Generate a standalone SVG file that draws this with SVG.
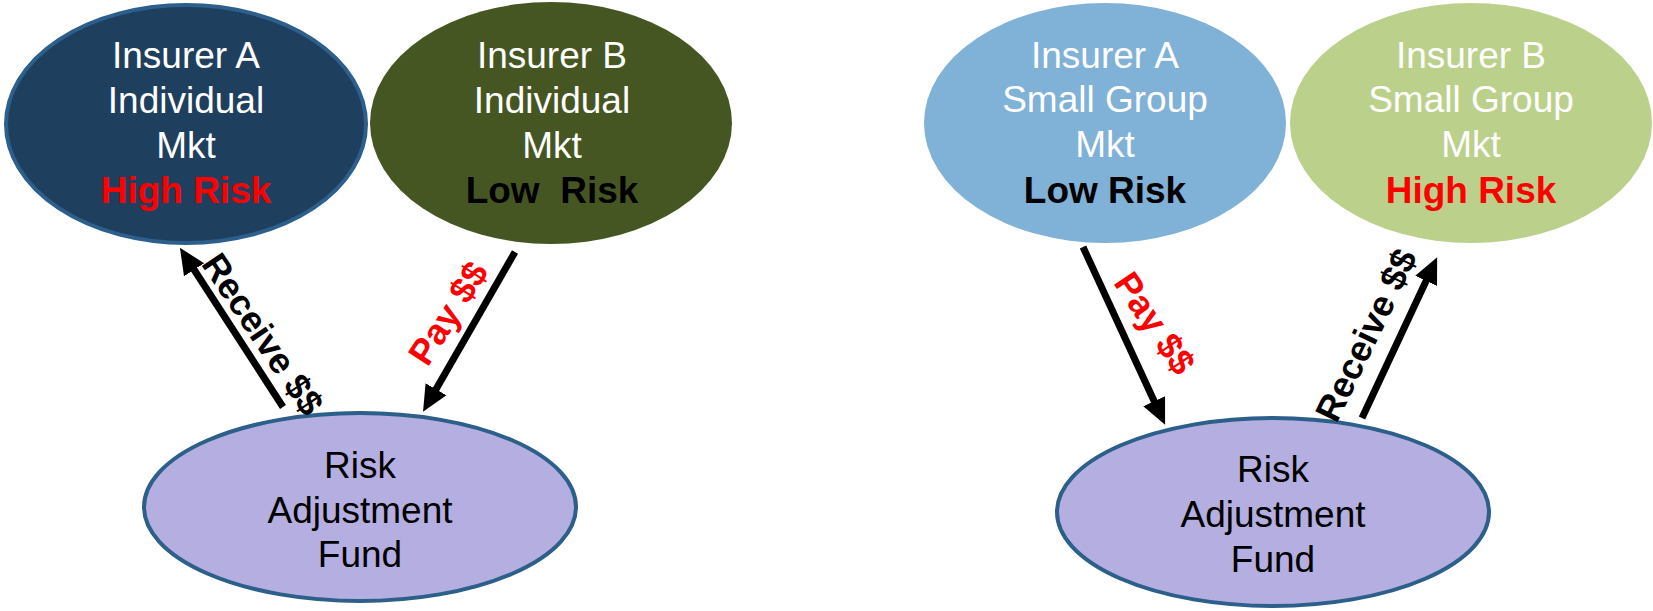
<svg xmlns="http://www.w3.org/2000/svg" width="1653" height="611" viewBox="0 0 1653 611">
<style>
.t{font-family:"Liberation Sans",Arial,sans-serif;font-size:37px;text-anchor:middle}
.w{fill:#ffffff}
.k{fill:#000000}
.b{font-weight:bold}
.r{fill:#ff0000}
.fund{fill:#b4afe0;stroke:#2c5f8a;stroke-width:4}
.lbl{font-family:"Liberation Sans",Arial,sans-serif;font-size:36px;font-weight:bold;text-anchor:middle}
.arr{stroke:#000;stroke-width:7;fill:none;marker-end:url(#ah)}
</style>
<defs>
<marker id="ah" markerUnits="userSpaceOnUse" markerWidth="28" markerHeight="26" viewBox="0 0 28 26" refX="2" refY="13" orient="auto">
<path d="M0,1 L26,13 L0,25 z" fill="#000"/>
</marker>
</defs>
<rect width="1653" height="611" fill="#fff"/>
<g id="insurerA-ind">
<ellipse cx="186" cy="124" rx="180" ry="119" fill="#1f3f5e" stroke="#2c5f8c" stroke-width="4"/>
<text class="t w" x="186" y="68">Insurer A</text>
<text class="t w" x="186" y="113">Individual</text>
<text class="t w" x="186" y="158">Mkt</text>
<text class="t b r" x="186" y="203">High Risk</text>
</g>
<g id="insurerB-ind">
<ellipse cx="551" cy="123" rx="181" ry="121" fill="#465622"/>
<text class="t w" x="552" y="68">Insurer B</text>
<text class="t w" x="552" y="113">Individual</text>
<text class="t w" x="552" y="158">Mkt</text>
<text class="t b k" x="552" y="203" xml:space="preserve">Low  Risk</text>
</g>
<g id="fund-left">
<ellipse class="fund" cx="360" cy="507" rx="216" ry="94"/>
<text class="t k" x="360" y="478">Risk</text>
<text class="t k" x="360" y="523">Adjustment</text>
<text class="t k" x="360" y="567">Fund</text>
</g>
<g id="insurerA-sg">
<ellipse cx="1105" cy="123" rx="181" ry="120" fill="#80b1d7"/>
<text class="t w" x="1105" y="68">Insurer A</text>
<text class="t w" x="1105" y="112">Small Group</text>
<text class="t w" x="1105" y="157">Mkt</text>
<text class="t b k" x="1105" y="203">Low Risk</text>
</g>
<g id="insurerB-sg">
<ellipse cx="1471" cy="123" rx="181" ry="120" fill="#bbd18b"/>
<text class="t w" x="1471" y="68">Insurer B</text>
<text class="t w" x="1471" y="112">Small Group</text>
<text class="t w" x="1471" y="157">Mkt</text>
<text class="t b r" x="1471" y="203">High Risk</text>
</g>
<g id="fund-right">
<ellipse class="fund" cx="1273" cy="512" rx="216" ry="94"/>
<text class="t k" x="1273" y="482">Risk</text>
<text class="t k" x="1273" y="527">Adjustment</text>
<text class="t k" x="1273" y="572">Fund</text>
</g>
<g id="connectors">
<line class="arr" x1="283" y1="407" x2="193" y2="268"/>
<line class="arr" x1="515" y1="252" x2="435" y2="391"/>
<line class="arr" x1="1083" y1="247" x2="1155" y2="403"/>
<line class="arr" x1="1362" y1="418" x2="1427" y2="279"/>
<text class="lbl k" transform="translate(263,334) rotate(56)" dy=".35em">Receive $$</text>
<text class="lbl r" transform="translate(448,313) rotate(-57)" dy=".35em">Pay $$</text>
<text class="lbl r" transform="translate(1155,323) rotate(56)" dy=".35em">Pay $$</text>
<text class="lbl k" transform="translate(1366,335) rotate(-64)" dy=".35em">Receive $$</text>
</g>
</svg>
